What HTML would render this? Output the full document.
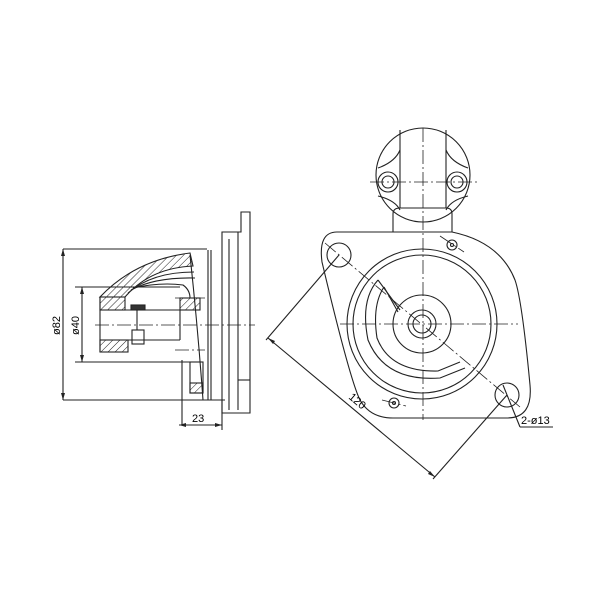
<!DOCTYPE html>
<html><head><style>body{margin:0;background:#fff}svg{display:block}</style></head><body>
<svg width="600" height="600" viewBox="0 0 600 600" xmlns="http://www.w3.org/2000/svg" font-family="Liberation Sans, sans-serif">
<defs>
<pattern id="h" width="5" height="5" patternUnits="userSpaceOnUse" patternTransform="rotate(45)"><line x1="0" y1="0" x2="0" y2="5" stroke="#222" stroke-width="1"/></pattern>
</defs>
<g fill="none" stroke="#222" stroke-width="1.1">
<!-- LEFT VIEW -->
<path d="M241,212 H250 V413 H222 V232 H241 Z"/>
<line x1="229" y1="239" x2="229" y2="410"/>
<line x1="238" y1="232" x2="238" y2="410"/>
<line x1="238" y1="380" x2="250" y2="380"/>
<line x1="208" y1="250" x2="208" y2="400"/>
<line x1="211" y1="250" x2="211" y2="400"/>
<path d="M190,255 Q198,330 203,400"/>
<!-- housing crescent -->
<path d="M100,297 Q135,260 190,253 L193,266 Q150,268 125,297 Z" fill="url(#h)"/>
<path d="M128,293 Q152,272 194,272"/>
<path d="M131,290 Q155,277 195,278"/>
<path d="M133,288 Q160,282 183,285 Q190,290 190,298"/>
<rect x="100" y="297" width="25" height="13" fill="url(#h)"/>
<rect x="100" y="340" width="28" height="12" fill="url(#h)"/>
<rect x="180" y="298" width="20" height="12" fill="url(#h)"/>
<line x1="100" y1="297" x2="100" y2="352"/>
<line x1="100" y1="310" x2="180" y2="310"/>
<line x1="100" y1="340" x2="180" y2="340"/>
<line x1="180" y1="310" x2="180" y2="340"/>
<rect x="132" y="330" width="12" height="14"/>
<line x1="137" y1="310" x2="137" y2="330"/>
<rect x="131" y="305" width="14" height="5" fill="#333"/>
<rect x="190" y="362" width="13" height="31"/>
<rect x="190" y="383" width="13" height="10" fill="url(#h)"/>
<line x1="182" y1="360" x2="182" y2="425"/>
<!-- dims -->
<line x1="63" y1="249" x2="207" y2="249"/>
<line x1="63" y1="400" x2="225" y2="400"/>
<line x1="63" y1="249" x2="63" y2="400"/>
<line x1="75" y1="287" x2="180" y2="287"/>
<line x1="75" y1="362" x2="190" y2="362"/>
<line x1="82" y1="287" x2="82" y2="362"/>
<line x1="179" y1="425" x2="222" y2="425"/>
<line x1="222" y1="400" x2="222" y2="430"/>
</g>
<g fill="#222">
<path d="M63,249 l-2,7 h4z M63,400 l-2,-7 h4z M82,287 l-2,7 h4z M82,362 l-2,-7 h4z M179,425 l7,-2 v4z M222,425 l-7,-2 v4z"/>
</g>
<g stroke="#222" stroke-width="0.8" stroke-dasharray="14,3,2,3" fill="none">
<line x1="95" y1="325" x2="255" y2="325"/>
<line x1="175" y1="298" x2="205" y2="298"/>
<line x1="175" y1="350" x2="205" y2="350"/>
</g>
<text x="0" y="0" font-size="11" transform="translate(60,335) rotate(-90)">ø82</text>
<text x="0" y="0" font-size="11" transform="translate(79,335) rotate(-90)">ø40</text>
<text x="192" y="422" font-size="11">23</text>

<!-- RIGHT VIEW -->
<g fill="none" stroke="#222" stroke-width="1.1">
<circle cx="423" cy="175" r="47"/>
<line x1="400" y1="130" x2="400" y2="208"/>
<line x1="446" y1="130" x2="446" y2="208"/>
<path d="M378,168 Q395,162 400,150 M378,196 Q395,200 400,210 M468,168 Q451,162 446,150 M468,196 Q451,200 446,210"/>
<circle cx="388" cy="182" r="10"/><circle cx="388" cy="182" r="6"/>
<circle cx="457" cy="182" r="10"/><circle cx="457" cy="182" r="6"/>
<path d="M393,232 V214 Q393,208 400,208 H446 Q452,208 452,214 V232"/>
<path d="M337,232 H452 Q500,242 515,280 Q522,300 530,385 Q533,418 507,418 H393 Q370,418 360,400 Q350,380 322,262 Q318,232 337,232 Z"/>
<circle cx="339" cy="255" r="12"/>
<circle cx="507" cy="395" r="12"/>
<circle cx="422" cy="324" r="75"/>
<circle cx="422" cy="324" r="69"/>
<circle cx="422" cy="324" r="29"/>
<circle cx="422" cy="324" r="14"/>
<circle cx="422" cy="324" r="9"/>
<path d="M378,280 Q360,300 368,340 Q385,382 440,378 L465,368"/>
<path d="M384,287 Q372,305 377,338 Q390,372 438,371 L460,362"/>
<path d="M378,280 L400,310"/><path d="M384,287 L398,312"/>
<circle cx="452" cy="245" r="5"/><circle cx="452" cy="245" r="1.5"/>
<circle cx="394" cy="403" r="5"/><circle cx="394" cy="403" r="1.5"/>
<!-- 120 dim -->
<line x1="268" y1="338" x2="435" y2="477"/>
<line x1="339" y1="255" x2="266" y2="340"/>
<line x1="507" y1="395" x2="433" y2="479"/>
<line x1="503" y1="385" x2="520" y2="427"/>
<line x1="520" y1="427" x2="553" y2="427"/>
</g>
<g fill="#222"><path d="M268,338 l7,3 l-2,3z M435,477 l-7,-3 l2,-3z"/></g>
<g stroke="#222" stroke-width="0.8" stroke-dasharray="14,3,2,3" fill="none">
<line x1="423" y1="128" x2="423" y2="420"/>
<line x1="370" y1="182" x2="478" y2="182"/>
<line x1="340" y1="324" x2="518" y2="324"/>
<line x1="325" y1="243" x2="520" y2="407"/>
<line x1="440" y1="236" x2="464" y2="252"/>
<line x1="382" y1="400" x2="406" y2="406"/>
</g>
<text x="0" y="0" font-size="11" transform="translate(348,398) rotate(40)">120</text>
<text x="521" y="424" font-size="11">2-ø13</text>
</svg>
</body></html>
